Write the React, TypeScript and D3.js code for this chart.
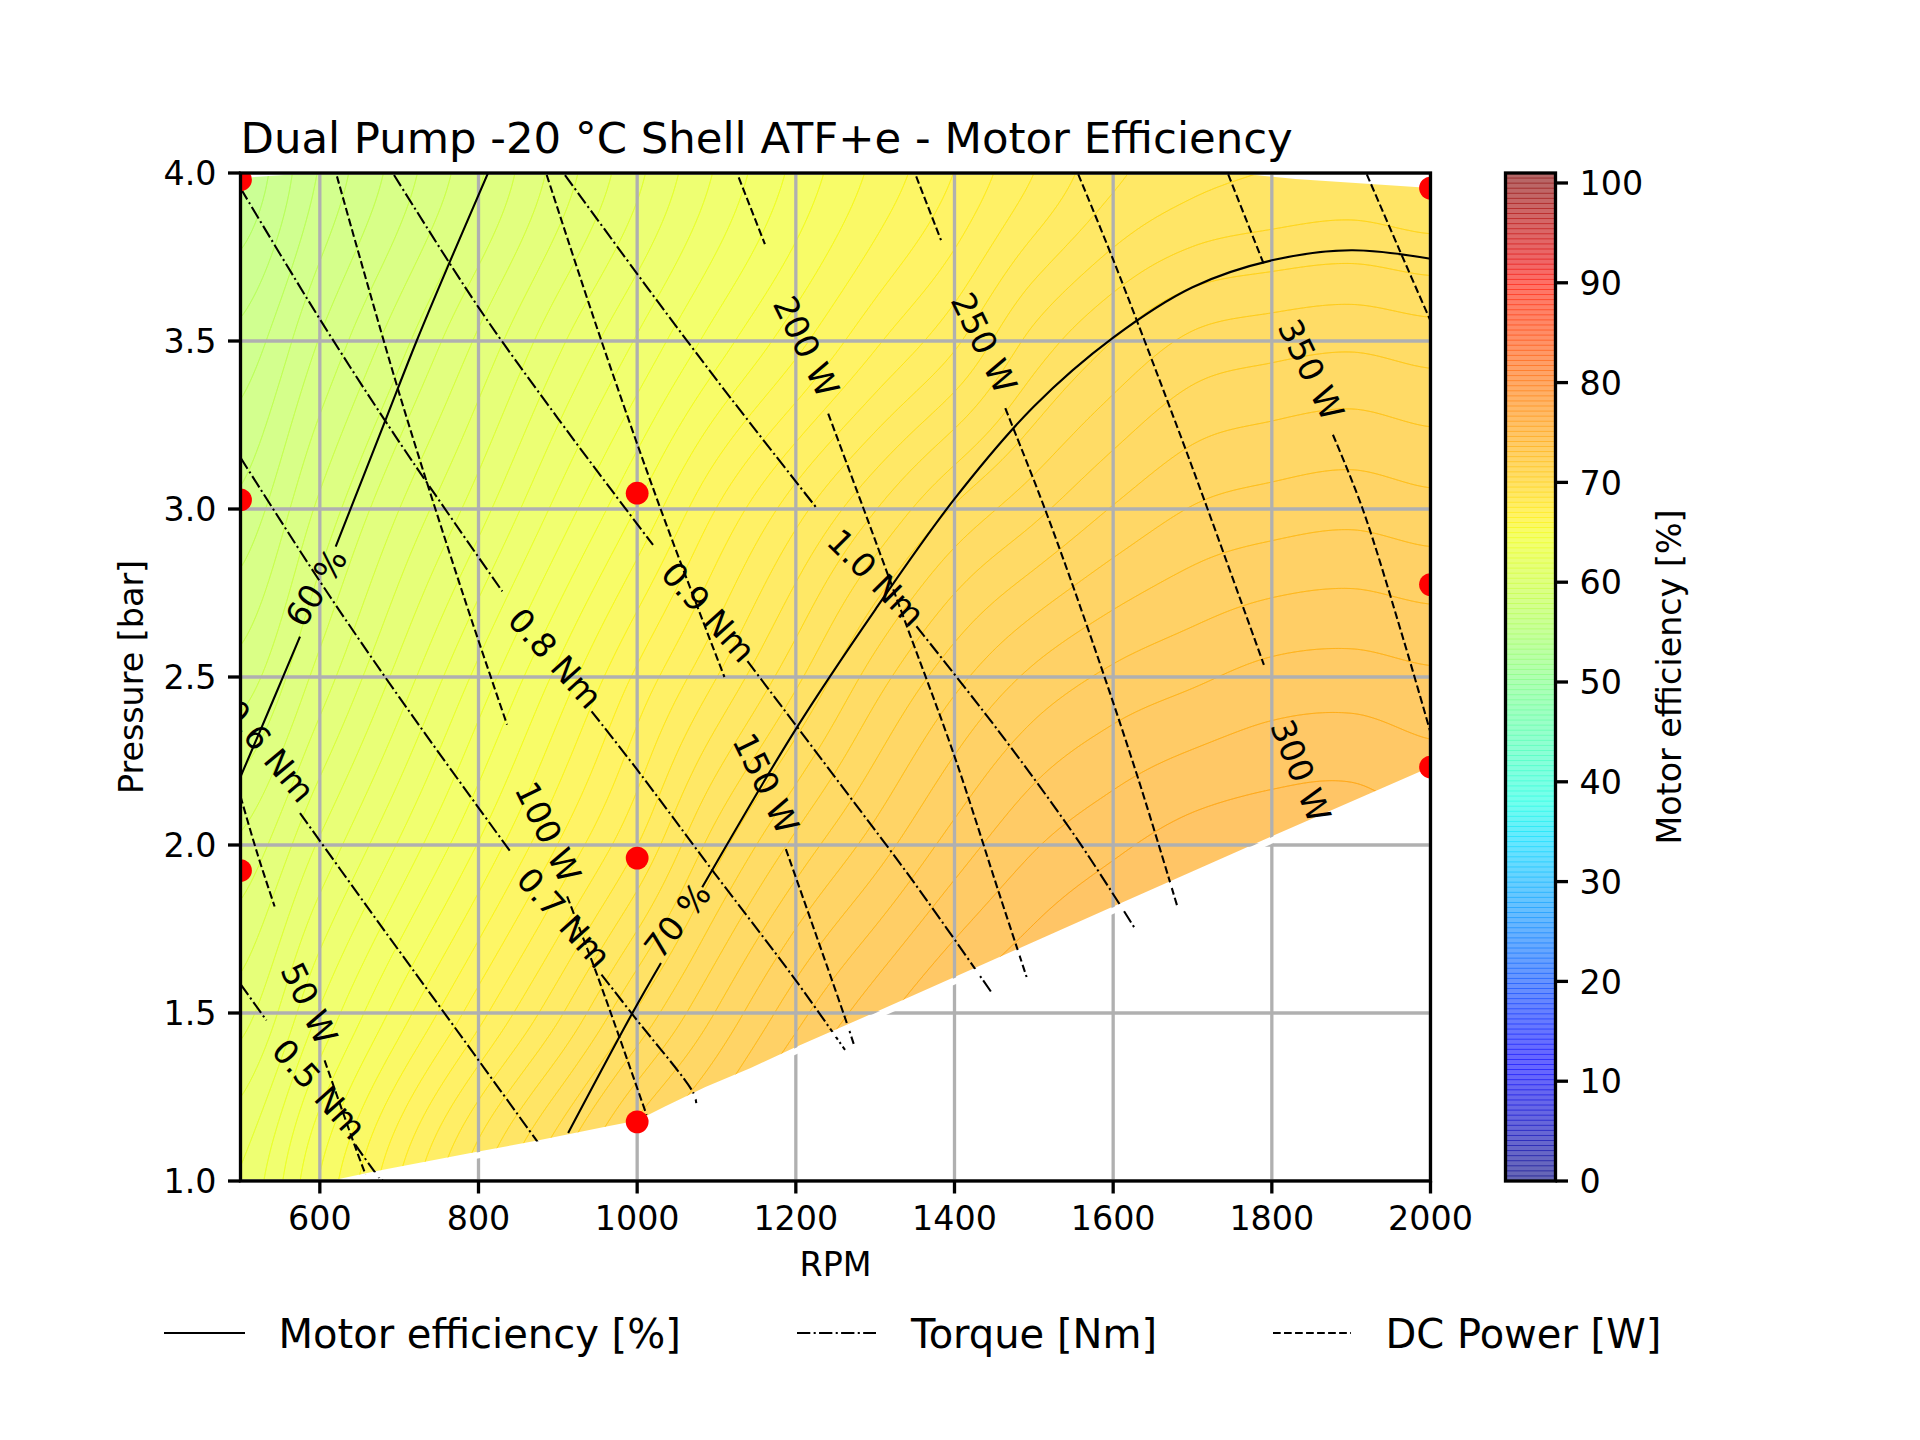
import React, { useMemo } from "react";
import * as d3 from "d3";

// ---------- data ----------
const titleText = "Dual Pump -20 °C Shell ATF+e - Motor Efficiency";
const xTicks = [600, 800, 1000, 1200, 1400, 1600, 1800, 2000];
const yTicks = [1.0, 1.5, 2.0, 2.5, 3.0, 3.5, 4.0];
const cbTicks = [0, 10, 20, 30, 40, 50, 60, 70, 80, 90, 100];
const cbMax = 101;

const fieldRpm = [500, 600, 700, 800, 900, 1000, 1100, 1200, 1300, 1400, 1500, 1600, 1700, 1800, 1900, 2000];
const fieldBar = [1.0, 1.5, 2.0, 2.5, 3.0, 3.5, 4.0];
const eff10 = [63, 65, 67, 68.9, 70.6, 72.2, 73.2, 74.3, 75.2, 75.9, 76.3, 76.7, 76.95, 77.1, 77.2, 76.9];
const eff15 = [61.7, 63.5, 65.2, 66.8, 68.4, 70.1, 71.6, 72.9, 73.9, 74.7, 75.2, 75.6, 75.9, 76.1, 76.15, 75.85];
const eff20 = [60.5, 62, 63.5, 65, 66.5, 68, 69.8, 71.2, 72.3, 73.3, 74.05, 74.5, 74.85, 75, 75.05, 74.75];
const eff25 = [59.1, 60.6, 62.1, 63.6, 65.1, 66.6, 68, 69.4, 70.8, 71.9, 72.7, 73.2, 73.5, 73.76, 73.82, 73.68];
const eff30 = [58, 59.5, 60.9, 62.2, 63.6, 65, 66.5, 67.8, 69, 70.1, 70.9, 71.6, 72.1, 72.3, 72.4, 72.25];
const eff35 = [57, 58.4, 59.7, 61, 62.3, 63.5, 64.7, 65.8, 66.9, 67.9, 69.2, 70.05, 70.65, 70.85, 70.95, 70.8];
const eff40 = [55.9, 57.4, 58.6, 59.8, 61.1, 62.3, 63.5, 64.6, 65.6, 66.5, 67.5, 68.4, 68.85, 69.05, 69.15, 69];
const effRows = [eff10, eff15, eff20, eff25, eff30, eff35, eff40];

const hullEdgeLower: [number, number][] = [[612, 1.0], [670, 1.029], [800, 1.088], [876, 1.121], [963, 1.163], [1000, 1.18], [1035, 1.222], [1086, 1.28], [1143, 1.336], [1200, 1.399], [1298, 1.5], [1400, 1.607], [1600, 1.817], [1800, 2.026], [2000, 2.232]];
const hullEdgeUpper: [number, number][] = [[2000, 3.955], [1830, 3.982], [1770, 3.996], [1700, 4.05], [600, 4.05], [600, 4.0], [560, 3.995], [500, 3.985], [500, 1.0]];

const testPoints: [number, number][] = [[500, 3.98], [500, 3.027], [500, 1.924], [1000, 3.047], [1000, 1.961], [1000, 1.176], [2000, 3.955], [2000, 2.775], [2000, 2.232]];

const eff60a: [number, number][] = [[500, 2.203], [541, 2.43], [575, 2.62]];
const eff60b: [number, number][] = [[620, 2.888], [682, 3.26], [722, 3.5], [763, 3.731], [812, 4.0]];
const eff70a: [number, number][] = [[913, 1.143], [994, 1.5], [1030, 1.649]];
const eff70b: [number, number][] = [[1082, 1.874], [1200, 2.345], [1300, 2.7], [1400, 3.03], [1500, 3.305], [1600, 3.51], [1700, 3.66], [1800, 3.74], [1900, 3.77], [2000, 3.745]];

const torque05a: [number, number][] = [[500, 1.586], [532.7, 1.478]];
const torque05b: [number, number][] = [[644.7, 1.108], [676.5, 1.006], [680, 1.0]];
const torque06b: [number, number][] = [[575, 2.095], [660, 1.815], [760, 1.49], [877, 1.108]];
const torque07a: [number, number][] = [[500, 3.153], [600, 2.785], [700, 2.44], [840, 1.981]];
const torque07b: [number, number][] = [[955, 1.614], [996, 1.49], [1070.9, 1.262], [1074.5, 1.232]];
const torque08a: [number, number][] = [[500, 3.955], [600, 3.565], [700, 3.2], [830, 2.755]];
const torque08b: [number, number][] = [[942.5, 2.398], [1000, 2.224], [1094, 1.927], [1199, 1.6], [1262, 1.39]];
const torque09a: [number, number][] = [[693.5, 3.994], [800, 3.6], [900, 3.27], [1020, 2.893]];
const torque09b: [number, number][] = [[1139, 2.547], [1250, 2.2], [1350, 1.885], [1447, 1.56]];
const torque10a: [number, number][] = [[909, 3.994], [1000, 3.7], [1100, 3.385], [1227.5, 2.999]];
const torque10b: [number, number][] = [[1352, 2.651], [1457.5, 2.333], [1555, 2.016], [1627, 1.753]];

const power050a: [number, number][] = [[500, 2.145], [521, 1.976], [543, 1.817]];
const power050b: [number, number][] = [[606, 1.359], [643.6, 1.108], [660, 1.004]];
const power100a: [number, number][] = [[621.6, 3.99], [700, 3.345], [780, 2.75], [836, 2.358]];
const power100b: [number, number][] = [[911.7, 1.847], [950, 1.61], [1011.8, 1.197]];
const power150a: [number, number][] = [[886, 3.994], [955, 3.5], [1030, 2.997], [1110, 2.5]];
const power150b: [number, number][] = [[1187.4, 1.988], [1265, 1.465], [1274, 1.4]];
const power200a: [number, number][] = [[1128, 3.987], [1161, 3.788]];
const power200b: [number, number][] = [[1240.8, 3.284], [1285.5, 3.0], [1336.8, 2.671], [1400, 2.264], [1457.5, 1.847], [1490.9, 1.607]];
const power250a: [number, number][] = [[1351.7, 3.99], [1383, 3.8]];
const power250b: [number, number][] = [[1464, 3.3], [1514, 3.0], [1573, 2.611], [1632, 2.194], [1680.9, 1.817]];
const power300: [number, number][] = [[1556, 3.996], [1600, 3.742], [1675.7, 3.276], [1719, 3.0], [1790, 2.536]];
const power350a: [number, number][] = [[1745, 3.996], [1791, 3.722]];
const power350b: [number, number][] = [[1877, 3.221], [1914.5, 3.0], [1966, 2.611], [2000, 2.335]];
const power400: [number, number][] = [[1919.7, 3.996], [1960.7, 3.772], [2000, 3.56]];

const effLines = [eff60a, eff60b, eff70a, eff70b];
const torqueLines = [torque05a, torque05b, torque06b, torque07a, torque07b, torque08a, torque08b, torque09a, torque09b, torque10a, torque10b];
const powerLines = [power050a, power050b, power100a, power100b, power150a, power150b, power200a, power200b, power250a, power250b, power300, power350a, power350b, power400];

const labelText = ["50 W", "100 W", "150 W", "200 W", "250 W", "300 W", "350 W", "0.5 Nm", "0.6 Nm", "0.7 Nm", "0.8 Nm", "0.9 Nm", "1.0 Nm", "60 %", "70 %"];
const labelRpm = [586.4, 887.3, 1162, 1213, 1437, 1836, 1849, 599, 535.7, 907.4, 896.6, 1089.5, 1300.8, 595.7, 1051];
const labelBar = [1.528, 2.038, 2.183, 3.483, 3.494, 2.22, 3.414, 1.273, 2.279, 1.783, 2.555, 2.693, 2.795, 2.766, 1.775];
const labelAngle = [64, 64, 64, 64, 64, 68, 64, 48, 50, 48, 48, 48, 45, -58, -52];

const legendNames = ["Motor efficiency [%]", "Torque [Nm]", "DC Power [W]"];

// jet colormap definition
const jetR = { d: [0, 0.35, 0.66, 0.89, 1], v: [0, 0, 1, 1, 0.5] };
const jetG = { d: [0, 0.125, 0.375, 0.64, 0.91, 1], v: [0, 0, 1, 1, 0, 0] };
const jetB = { d: [0, 0.11, 0.34, 0.65, 1], v: [0.5, 1, 1, 0, 0] };

// ---------- layout ----------
const W = 1920, H = 1440;
const L = 240.5, R = 1430.5, T = 173, B = 1181;
const CBL = 1505.5, CBR = 1555.5;
const FONT = "'DejaVu Sans', sans-serif";
const TICK_FS = 33.33, TITLE_FS = 43.4, LEG_FS = 40;
const LW = 2.08;
const DASH = `${3.7 * LW} ${1.6 * LW}`;
const DOT = `${6.4 * LW} ${1.6 * LW} ${1 * LW} ${1.6 * LW}`;

const x = d3.scaleLinear().domain([500, 2000]).range([L, R]);
const y = d3.scaleLinear().domain([1, 4]).range([B, T]);
const cbY = d3.scaleLinear().domain([0, cbMax]).range([B, T]);

const chan = (c: { d: number[]; v: number[] }) => d3.scaleLinear().domain(c.d).range(c.v).clamp(true);
const rS = chan(jetR), gS = chan(jetG), bS = chan(jetB);
const jet = (t: number) => `rgb(${Math.round(rS(t) * 255)},${Math.round(gS(t) * 255)},${Math.round(bS(t) * 255)})`;

// levels of the filled field
const levels = d3.range(200).map((i) => (i * cbMax) / 199);

function cr(p0: number, p1: number, p2: number, p3: number, t: number) {
  return 0.5 * (2 * p1 + (p2 - p0) * t + (2 * p0 - 5 * p1 + 4 * p2 - p3) * t * t + (3 * p1 - p0 - 3 * p2 + p3) * t * t * t);
}
function sampleField(rpm: number, bar: number) {
  const nc = fieldRpm.length, nr = fieldBar.length;
  const u = ((rpm - fieldRpm[0]) / (fieldRpm[nc - 1] - fieldRpm[0])) * (nc - 1);
  const v = ((bar - fieldBar[0]) / (fieldBar[nr - 1] - fieldBar[0])) * (nr - 1);
  const i = Math.min(nc - 2, Math.max(0, Math.floor(u)));
  const j = Math.min(nr - 2, Math.max(0, Math.floor(v)));
  const at = (r: number, c: number) => {
    const rr = Math.max(0, Math.min(nr - 1, r));
    const cc = Math.max(0, Math.min(nc - 1, c));
    return effRows[rr][cc];
  };
  const tmp = [-1, 0, 1, 2].map((dj) => cr(at(j + dj, i - 1), at(j + dj, i), at(j + dj, i + 1), at(j + dj, i + 2), u - i));
  return cr(tmp[0], tmp[1], tmp[2], tmp[3], v - j);
}

function buildBands() {
  const nx = 376, ny = 241;
  const dr = 1500 / (nx - 1), db = 3 / (ny - 1);
  const vals = new Float64Array(nx * ny);
  for (let j = 0; j < ny; j++) for (let i = 0; i < nx; i++) vals[j * nx + i] = sampleField(500 + i * dr, 1 + j * db);
  const used = levels.filter((l) => l > 50 && l < 82);
  const gen = d3.contours().size([nx, ny]).thresholds(used);
  const polys = gen(Array.from(vals));
  const proj = d3.geoTransform({
    point(px: number, py: number) {
      (this as any).stream.point(x(500 + (px - 0.5) * dr), y(1 + (py - 0.5) * db));
    },
  });
  const path = d3.geoPath(proj);
  return polys.map((p, k) => {
    const d1 = path(p as any) || "";
    const d2 = k + 1 < polys.length ? path(polys[k + 1] as any) || "" : "";
    const upper = k + 1 < used.length ? used[k + 1] : used[k] + 0.5;
    return { d: d1 + d2, color: jet((used[k] + upper) / 2 / cbMax) };
  });
}

const line = d3.line<[number, number]>().x((d) => x(d[0])).y((d) => y(d[1])).curve(d3.curveCatmullRom.alpha(0.5));
const edge = d3.line<[number, number]>().x((d) => x(d[0])).y((d) => y(d[1])).curve(d3.curveLinear);

export default function App() {
  const bands = useMemo(buildBands, []);
  const hullD = edge([...hullEdgeLower, ...hullEdgeUpper]) + "Z";
  const txt = { fontFamily: FONT, fill: "#000" } as const;
  return (
    <svg width={W} height={H} viewBox={`0 0 ${W} ${H}`} style={{ position: "absolute", left: 0, top: 0, display: "block", background: "#fff" }}>
      <defs>
        <clipPath id="hull"><path d={hullD} /></clipPath>
        <clipPath id="axes"><rect x={L} y={T} width={R - L} height={B - T} /></clipPath>
      </defs>

      <text x={L} y={152.5} fontSize={TITLE_FS} {...txt}>{titleText}</text>

      <g clipPath="url(#axes)">
        <g clipPath="url(#hull)">
          {bands.map((b, i) => (
            <path key={i} d={b.d} fill={b.color} fillOpacity={0.6} fillRule="evenodd" stroke={b.color} strokeOpacity={0.55} strokeWidth={1} />
          ))}
        </g>
        {xTicks.map((t) => <line key={t} x1={x(t)} x2={x(t)} y1={T} y2={B} stroke="#b0b0b0" strokeWidth={3.3} />)}
        {yTicks.map((t) => <line key={t} x1={L} x2={R} y1={y(t)} y2={y(t)} stroke="#b0b0b0" strokeWidth={3.3} />)}

        {effLines.map((l, i) => <path key={i} d={line(l) || ""} fill="none" stroke="#000" strokeWidth={LW} />)}
        {torqueLines.map((l, i) => <path key={i} d={line(l) || ""} fill="none" stroke="#000" strokeWidth={LW} strokeDasharray={DOT} />)}
        {powerLines.map((l, i) => <path key={i} d={line(l) || ""} fill="none" stroke="#000" strokeWidth={LW} strokeDasharray={DASH} />)}

        <path d={edge(hullEdgeLower) || ""} fill="none" stroke="#fff" strokeWidth={6} transform="translate(1.5,3.6)" />

        {testPoints.map((p, i) => <circle key={i} cx={x(p[0])} cy={y(p[1])} r={11.4} fill="#ff0000" />)}

        {labelText.map((t, i) => (
          <text key={t} transform={`translate(${x(labelRpm[i])},${y(labelBar[i])}) rotate(${labelAngle[i]})`} textAnchor="middle" dominantBaseline="central" fontSize={TICK_FS} {...txt}>{t}</text>
        ))}
      </g>

      <rect x={L} y={T} width={R - L} height={B - T} fill="none" stroke="#000" strokeWidth={3.3} />
      {xTicks.map((t) => (
        <g key={t}>
          <line x1={x(t)} x2={x(t)} y1={B} y2={B + 12.5} stroke="#000" strokeWidth={3.3} />
          <text x={x(t)} y={1230} textAnchor="middle" fontSize={TICK_FS} {...txt}>{t}</text>
        </g>
      ))}
      {yTicks.map((t) => (
        <g key={t}>
          <line x1={L - 12.5} x2={L} y1={y(t)} y2={y(t)} stroke="#000" strokeWidth={3.3} />
          <text x={L - 24} y={y(t) + 12.2} textAnchor="end" fontSize={TICK_FS} {...txt}>{t.toFixed(1)}</text>
        </g>
      ))}
      <text x={835.5} y={1276} textAnchor="middle" fontSize={TICK_FS} {...txt}>RPM</text>
      <text transform={`translate(143,677) rotate(-90)`} textAnchor="middle" fontSize={TICK_FS} {...txt}>Pressure [bar]</text>

      {/* colour bar */}
      <g>
        {levels.slice(0, -1).map((l, i) => (
          <rect key={i} x={CBL} width={CBR - CBL} y={cbY(levels[i + 1]) - 0.45} height={cbY(l) - cbY(levels[i + 1]) + 0.9} fill={jet((l + levels[i + 1]) / 2 / cbMax)} fillOpacity={0.6} />
        ))}
      </g>
      <rect x={CBL} y={T} width={CBR - CBL} height={B - T} fill="none" stroke="#000" strokeWidth={3.3} />
      {cbTicks.map((t) => (
        <g key={t}>
          <line x1={CBR} x2={CBR + 12.5} y1={cbY(t)} y2={cbY(t)} stroke="#000" strokeWidth={3.3} />
          <text x={CBR + 24} y={cbY(t) + 12.2} fontSize={TICK_FS} {...txt}>{t}</text>
        </g>
      ))}
      <text transform={`translate(1681,677) rotate(-90)`} textAnchor="middle" fontSize={TICK_FS} {...txt}>Motor efficiency [%]</text>

      {/* legend */}
      <line x1={164} x2={245} y1={1333} y2={1333} stroke="#000" strokeWidth={LW} />
      <text x={278.5} y={1347.5} fontSize={LEG_FS} {...txt}>{legendNames[0]}</text>
      <line x1={797} x2={876} y1={1333} y2={1333} stroke="#000" strokeWidth={LW} strokeDasharray={DOT} />
      <text x={911} y={1347.5} fontSize={LEG_FS} {...txt}>{legendNames[1]}</text>
      <line x1={1273} x2={1351} y1={1333} y2={1333} stroke="#000" strokeWidth={LW} strokeDasharray={DASH} />
      <text x={1385.5} y={1347.5} fontSize={LEG_FS} {...txt}>{legendNames[2]}</text>
    </svg>
  );
}
